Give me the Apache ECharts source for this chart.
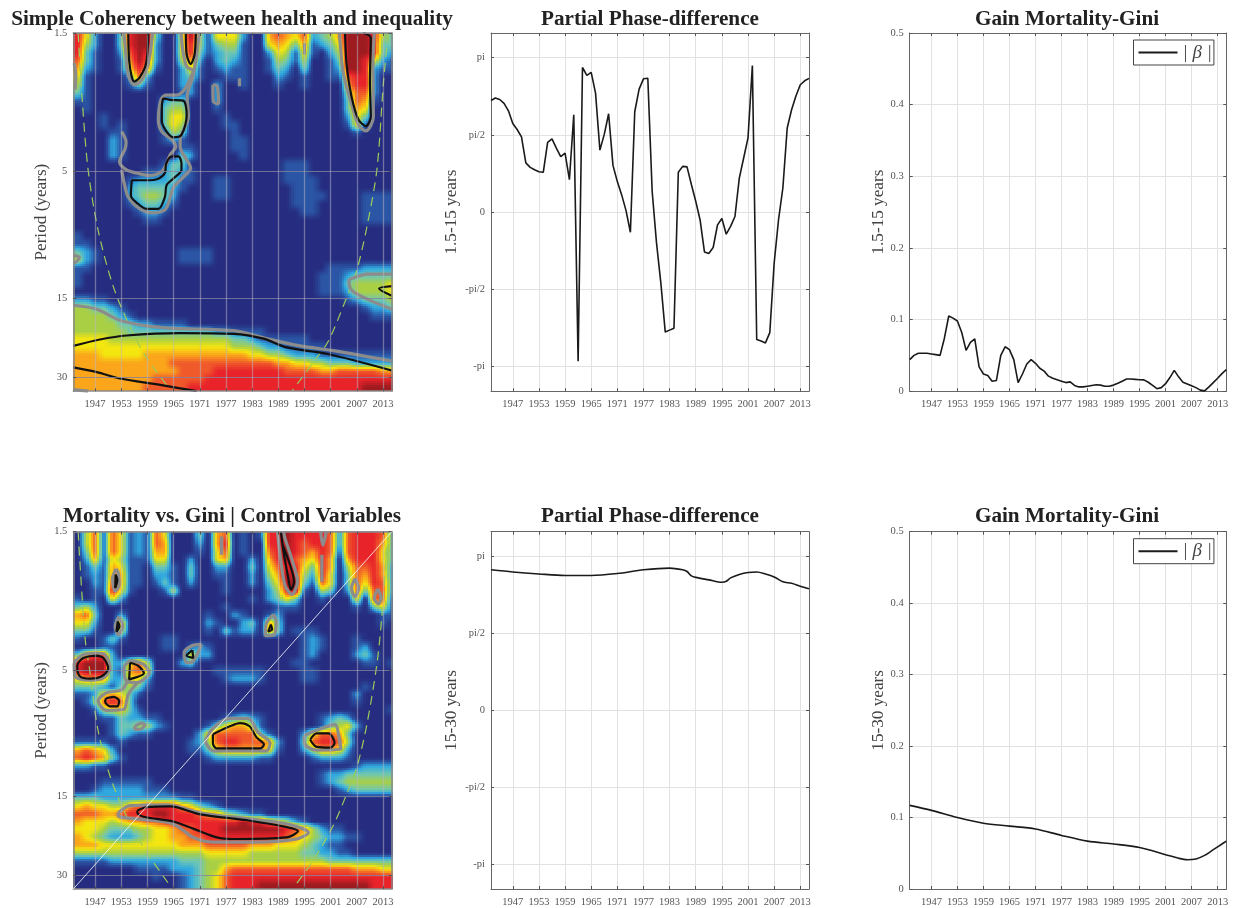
<!DOCTYPE html>
<html><head><meta charset="utf-8">
<style>html,body{margin:0;padding:0;background:#fff}#c{width:1240px;height:908px}</style>
<script src="https://cdn.jsdelivr.net/npm/echarts@6/dist/echarts.min.js"></script>
</head><body><div id="c"></div>
<script>
const tickYears=[1947,1953,1959,1965,1971,1977,1983,1989,1995,2001,2007,2013];
const periodTicks=[1.5,5,15,30];
const gainTicks=[0,0.1,0.2,0.3,0.4,0.5];
const phaseNames={'-3.1416':'-pi','-1.5708':'-pi/2','0.0000':'0','1.5708':'pi/2','3.1416':'pi'};
const phaseTicks=[-Math.PI,-Math.PI/2,0,Math.PI/2,Math.PI];

// coherency class per 2-year column (1942..2016) and per wavelet scale row (short to long period)
const heatRows1=[
"85200 38993 00594 15552 00676 57234 69998 43",
"84200 38992 00584 13441 00565 36123 59998 33",
"83100 27982 00583 12331 00254 15102 49998 32",
"73100 16972 00462 02321 00143 14001 39985 21",
"62100 15861 00251 01211 00132 03001 29982 11",
"51000 02720 00231 00111 00021 01001 17882 00",
"41000 01310 00220 02001 00010 01000 06882 00",
"31000 00000 00120 02000 00000 00000 04772 00",
"11000 00000 23300 02000 00000 00000 03761 00",
"01000 00000 34400 01000 00000 00000 03650 00",
"00010 00000 35500 00100 00000 00000 02530 00",
"00010 10000 35400 00110 00000 00000 01510 00",
"00001 10000 14300 00010 00000 00000 00100 00",
"00002 10000 12100 00011 00000 00000 00000 00",
"00002 10000 00110 00011 00000 00000 00000 00",
"00002 10000 00320 00001 00000 00000 00000 00",
"00000 00000 13300 00000 00001 11000 00000 00",
"00000 00011 23210 00000 00001 11000 00000 00",
"00000 01222 23110 01100 00001 11100 00000 00",
"00000 02333 32100 01100 00000 11100 00000 00",
"00000 02344 32000 01100 00000 11110 00011 11",
"00000 01233 21000 00000 00000 11100 00011 11",
"00000 00122 10000 00000 00000 01100 00011 11",
"00000 00011 00000 00000 00000 00000 00011 11",
"00000 00000 00000 00000 00000 00000 00000 00",
"10000 00000 00000 00000 00000 00000 00000 00",
"11000 00000 00000 00000 00000 00000 00000 00",
"32100 00000 00111 10000 00000 00000 00000 00",
"42100 00000 00111 10000 00000 00000 00000 00",
"11000 00000 00000 00000 00000 00001 11122 22",
"10000 00000 00000 00000 00000 00011 12333 33",
"10000 00000 00000 00000 00000 00011 13444 45",
"00000 00000 00000 00000 00000 00011 12444 45",
"22110 00000 00000 00000 00000 00000 01233 34",
"44332 10000 00000 00000 00000 00000 00012 23",
"44443 21000 00000 00000 00000 00000 00001 11",
"44444 33221 11100 00000 00000 00000 00000 00",
"44444 43333 33333 32211 11000 00000 00000 00",
"55554 44444 44444 44433 21111 11000 00000 00",
"55555 55555 55555 55544 43221 11110 00000 00",
"66655 55566 66666 66666 55443 22211 11111 11",
"66666 66666 67777 77777 77766 55443 33222 22",
"66666 66666 66777 78888 88887 77766 77777 66",
"66666 66667 77777 88888 88888 88888 88888 88",
"66666 66677 77788 88888 88888 88888 88899 99"];
const heatRows2=[
"04717 51217 50003 06701 01889 88887 27888 73",
"04717 51217 60002 06801 00889 87887 27888 63",
"03717 51216 60001 05701 00789 87687 17888 53",
"02615 41115 50020 05600 20689 76586 06888 53",
"01316 51103 31030 02200 30578 85386 04778 62",
"01216 61102 21030 01100 20469 84285 03768 62",
"00217 61101 31020 00100 20359 93175 03758 72",
"00118 51000 14000 00100 00248 91043 02737 72",
"10105 20000 00000 00000 10235 30010 00507 71",
"34200 00000 00000 00100 00011 10000 00103 51",
"67300 20000 00000 10021 00120 00000 00000 11",
"55200 60000 00000 21002 30630 00000 00000 10",
"33100 50000 00000 10312 20630 11100 00000 00",
"10013 10000 11000 00000 00000 01210 00100 00",
"00011 00000 11012 10000 00000 01210 00120 00",
"36872 00000 00052 20000 00000 01200 00231 00",
"89992 25740 00230 00000 00000 11000 00011 01",
"89992 16750 00000 01111 11000 01100 00000 00",
"56662 25520 00000 00122 21000 01100 00000 00",
"33321 34310 00000 00000 00000 00000 00010 00",
"11256 53100 00000 00000 00000 00000 00200 00",
"01378 73000 00000 00000 00000 00000 00100 00",
"00145 53100 00000 00000 00000 00000 00000 01",
"00011 32211 00000 00123 21000 00012 32000 00",
"00001 33442 10000 13566 41000 00013 45200 00",
"00001 32110 00002 57777 73100 02577 63000 00",
"11110 10000 00012 47887 77620 03788 74000 00",
"67652 00000 00011 35666 66510 02466 52000 00",
"78763 10000 00000 12222 21100 00122 21000 00",
"22110 00000 00000 00000 00000 00000 00122 22",
"00000 00000 00000 00000 00000 00012 23333 33",
"00011 11110 00000 00000 00000 00012 34444 44",
"00122 22211 10000 00000 00000 00000 12333 33",
"33322 22222 22110 00000 00000 00000 00000 00",
"56554 46788 88653 21000 00000 00000 00000 00",
"77766 78889 98887 66432 11000 00000 00000 00",
"65554 56677 88888 88889 88654 21000 00000 00",
"55543 33445 56778 88999 99998 76421 10000 00",
"65432 22345 56677 88888 88887 65432 21100 00",
"66655 55555 55666 77777 66655 54321 10000 00",
"44444 44444 44444 55555 44444 43322 11000 00",
"11112 22222 22333 44444 44444 44443 33333 33",
"00000 00111 12223 44677 77777 77777 77666 55",
"00000 00001 00123 45788 88888 88888 88888 88",
"00000 00000 00123 45788 89999 99999 99998 88"];
const palette=['#262d80','#2b55a5','#2fa8e0','#6fc7b2','#a9cf45','#f4e60f','#faa51a','#f0592a','#e8232a','#9e1b20'];

// contours as [year, scale index]
const grey1=[
[[1953.6,0],[1954.1,2.9],[1954.6,5.3],[1956,6.5],[1957.7,5.9],[1959.2,3.8],[1960.2,0]],
[[1953.1,12.4],[1954.1,13.7],[1953.9,14.5],[1952.6,16.2],[1954.2,17.2],[1957.3,17.7],[1959.6,17.9],[1962.3,17.4],[1963.4,16.4],[1964.2,15.3],[1965.5,14.3],[1964.6,13.4],[1962.3,12.4],[1961.5,10.9],[1962.1,8.4],[1963.2,7.8],[1965.7,7.8],[1967.5,7.1],[1968.8,5.7],[1969.5,4.8],[1968,4.2],[1967.2,2.5],[1966.7,0]],
[[1970.9,0],[1970.3,2.7],[1969.4,5.5],[1968.1,8],[1968.4,10.5],[1966.5,13.4],[1966.5,14.3],[1968.9,17],[1967.2,18.1],[1964.9,19.5],[1963.2,22.1],[1960.3,22.6],[1957.3,22.1],[1954.6,20.6],[1953.6,18.7],[1953.1,17.2]],
[[2003,0],[2003.9,5],[2005.5,8.4],[2007.4,11.6],[2009.1,12.3],[2010.8,10.5],[2010.7,4.2],[2011,0]],
[[1995,1.3],[1995,2.7]],[[1980.1,5.7],[1980.1,6.7]],
[[1974,6.5],[1974.1,8.6],[1975.3,8.9],[1975,6.7],[1974,6.5]],
[[1942,27.9],[1943.4,28.2],[1942.1,29]],[[1942.2,3.8],[1942.6,5.5],[1942.4,7.1]],
[[1942,34.2],[1947.4,34.7],[1952.7,36.1],[1958.8,36.8],[1964.9,37.1],[1978.7,37.4],[1986.3,38.4],[1994,39.3],[2001.6,39.9],[2015,41.2]],
[[1942,44.8],[1945.4,45]],
[[2015,30.3],[2009.3,30.3],[2006.6,30.7],[2005.2,31.1],[2005.8,32.3],[2009.3,33.4],[2015,34.7]]];
const black1=[
[[1954.6,0],[1954.8,3.4],[1955.4,5.5],[1956,6.1],[1957.3,5.5],[1958.7,3.8],[1959.2,0]],
[[1962.6,8.2],[1964.2,8.4],[1967.2,8.5],[1968,10.3],[1966.8,12.8],[1964.9,13.1],[1963.4,12.4],[1962.3,11.1],[1962.3,9.2],[1962.6,8.2]],
[[1955.4,18.5],[1958.8,18.5],[1961.5,18.3],[1963,17.6],[1963.3,16.4],[1964.6,15.5],[1966.1,15.5],[1966.8,16.4],[1966.8,17.2],[1964.9,18.3],[1963.4,19.1],[1963,20.6],[1961.5,22.1],[1958.8,22.1],[1956.5,21.3],[1955.2,20.4],[1955.4,18.5]],
[[2004.3,0],[2004.7,4.2],[2005.8,8],[2007.4,10.9],[2009.1,11.7],[2010.2,10.5],[2010,6.3],[2010.2,0.6],[2008.5,0]],
[[1967.8,0],[1968,2.7],[1968.9,3.9],[1969.8,2.7],[1970.1,0]],
[[1942,39.3],[1948.1,38.5],[1954.2,38],[1966.5,37.7],[1978.7,37.8],[1985.6,38.4],[1990.9,39.5],[2000.1,40.3],[2015,42.4]],
[[1942,42],[1947.4,42.6],[1952.7,43.4],[1961.9,44.2],[1970.3,45]],
[[2015,31.8],[2012.1,32.1],[2015,33]]];
const cone1=[
[[1943.1,0],[1944.1,8.8],[1945.4,17.2],[1947.7,24.8],[1951.2,31.9],[1955.4,37.4],[1958.8,40.8],[1963.8,44.5]],
[[2014.2,0],[2013.1,6.3],[2011.6,17.2],[2009.3,24.4],[2007,29.8],[2004.7,33.2],[2000.5,38.7],[1997.8,40.8],[1992.1,45]]];
const grey2=[
[[1951.8,4.7],[1951,5.9],[1951.6,7.5],[1952.5,6.7],[1952.3,5.2],[1951.8,4.7]],
[[1952.5,10.7],[1951.6,11.9],[1952.3,13],[1953.3,11.9],[1952.5,10.7]],
[[1987.9,10.4],[1986.3,11.5],[1986,13.1],[1988,13],[1988.5,11.3],[1987.9,10.4]],
[[1971.4,14.2],[1969.1,14.4],[1967.4,15.3],[1968,16.5],[1969.5,16.3],[1971.4,14.2]],
[[1947.4,15.3],[1944.3,15.5],[1942.2,16.7],[1942.4,18.2],[1945.4,18.7],[1948.9,18.4],[1950.4,17.2],[1949.3,15.5],[1947.4,15.3]],
[[1955,16.2],[1953.6,17.2],[1954.2,18.8],[1956.5,19],[1959.4,17.8],[1958.1,16.7],[1955,16.2]],
[[1954.6,18.6],[1953.1,19.9],[1949.6,20.3],[1947.7,21.3],[1949.6,22.5],[1953.5,22.4],[1954.6,20.5],[1956.9,18.9]],
[[1956.1,24.5],[1957.7,24.1],[1958.4,24.3],[1957.3,24.9],[1956.1,24.9],[1956.1,24.5]],
[[1972.2,26.4],[1974.1,24.7],[1977.9,23.5],[1982.1,23.5],[1984.4,25.3],[1987.1,26.6],[1986.3,27.6],[1974.1,27.6],[1972.2,26.4]],
[[1994.9,25.7],[1997.8,25],[2002,24.3],[2002.8,25.5],[2003.3,27.4],[1997.8,27.5],[1995.1,26.8],[1994.9,25.7]],
[[1952.3,35.4],[1955,34.5],[1963.4,34.4],[1971.1,35.4],[1982.5,36.2],[1990.9,36.8],[1995.9,37.9],[1993.2,38.7],[1983.3,39.1],[1974.1,39.1],[1969.5,38.5],[1964.9,36.8],[1957.3,36.2],[1952.3,35.8],[1952.3,35.4]],
[[1988.8,0],[1989.4,2.9],[1990.5,6.7],[1992.1,7.9],[1993.4,6.3],[1992.3,3.8],[1990.5,0.8],[1990.2,0]],
[[1998.7,0],[1999.2,1.7],[1999.7,0.8],[2000,0]],
[[1976,0.6],[1976,2.9]],[[1999,2.9],[1999,6.3]],
[[2006.6,5.9],[2005.8,7.1],[2006.6,8.2],[2007.4,7.1],[2006.6,5.9]],
[[2011.8,7.2],[2011,8.4],[2012,9.1],[2012.5,8.2],[2011.8,7.2]]];
const black2=[
[[1951.7,5.4],[1951.6,7.1],[1952.1,6.1],[1951.7,5.4]],
[[1952.2,11.3],[1951.9,12.6],[1952.6,11.9],[1952.2,11.3]],
[[1987.3,11.7],[1986.7,12.6],[1987.6,12.3],[1987.3,11.7]],
[[1969.3,14.9],[1968,15.6],[1969.5,15.9],[1969.3,14.9]],
[[1947.4,15.6],[1944.3,15.9],[1942.9,16.9],[1943.5,18.2],[1945.8,18.5],[1948.5,18.2],[1950,17.2],[1948.9,15.9],[1947.4,15.6]],
[[1955,16.5],[1954.8,18.6],[1958.2,17.8],[1956.9,16.9],[1955,16.5]],
[[1949.5,21],[1951.2,20.8],[1952.5,21.3],[1952.1,22],[1950.4,22],[1949.3,21.4],[1949.5,21]],
[[1974,25.5],[1977.9,24.5],[1980.2,24.1],[1982.4,24.5],[1984,25.9],[1985.7,26.8],[1984.8,27.3],[1974.9,27.3],[1974,26.6],[1974,25.5]],
[[1996.3,26.2],[1997.8,25.4],[2000.5,25.4],[2001.9,26.6],[2000.9,27.2],[1997.8,27.1],[1996.3,26.2]],
[[1956.7,35.1],[1958.8,34.7],[1964.2,34.6],[1971.1,35.6],[1982.5,36.4],[1990.9,37.2],[1993.5,37.7],[1990.9,38.5],[1978.7,38.7],[1974.9,38.5],[1969.5,37.4],[1964.9,36.5],[1958.1,35.9],[1956.7,35.4],[1956.7,35.1]],
[[1989.6,0],[1990.2,2.5],[1991.3,5.9],[1991.9,7.3],[1992.6,6.3],[1991.7,4.2],[1990,1.7]]];
const cone2=[
[[1943.1,0],[1944.7,13.4],[1945.8,17.6],[1947.7,25.1],[1950.8,31.4],[1955.4,37.2],[1959.6,41],[1964.2,44.6]],
[[2014.2,0],[2012.7,10.9],[2011.6,16.7],[2009.3,24.3],[2007,29.7],[2004.7,33],[2001.6,37],[1997,41.4],[1992.5,44.8]]];
const diagonal2=[[1942,45],[2015,0]];

const phaseShort=[2.27,2.32,2.29,2.21,2.06,1.80,1.68,1.53,1.00,0.91,0.86,0.82,0.81,1.42,1.49,1.30,1.13,1.20,0.66,1.98,-3.03,2.94,2.78,2.84,2.42,1.26,1.58,2.00,0.95,0.62,0.35,0.03,-0.41,2.04,2.50,2.71,2.72,0.42,-0.63,-1.45,-2.44,-2.40,-2.36,0.81,0.93,0.92,0.56,0.22,-0.16,-0.81,-0.84,-0.72,-0.26,-0.13,-0.45,-0.29,-0.09,0.69,1.10,1.51,2.98,-2.59,-2.62,-2.66,-2.45,-1.04,-0.16,0.49,1.71,2.08,2.36,2.59,2.67,2.72];
const gainShort=[0.044,0.050,0.053,0.053,0.053,0.052,0.051,0.050,0.074,0.105,0.102,0.098,0.082,0.057,0.068,0.073,0.034,0.024,0.022,0.014,0.015,0.050,0.062,0.058,0.044,0.012,0.024,0.038,0.044,0.039,0.032,0.028,0.021,0.018,0.016,0.014,0.012,0.013,0.008,0.006,0.006,0.007,0.008,0.009,0.0085,0.007,0.007,0.0085,0.011,0.014,0.017,0.017,0.0165,0.016,0.0158,0.0125,0.008,0.0035,0.005,0.0105,0.019,0.029,0.020,0.0125,0.010,0.0075,0.005,0.0015,0.0005,0.006,0.012,0.018,0.0245,0.030];
const phaseLongYears=[1942,1947,1953,1959,1965,1971,1977,1983,1986,1987,1988,1989,1992,1995,1996,1997,1999,2001,2003,2005,2007,2009,2011,2013,2015];
const phaseLong=[2.865,2.82,2.78,2.75,2.75,2.79,2.865,2.90,2.865,2.83,2.74,2.71,2.66,2.61,2.63,2.70,2.77,2.81,2.82,2.78,2.72,2.62,2.59,2.53,2.48];
const gainLongYears=[1942,1947,1953,1959,1965,1971,1977,1983,1989,1995,2001,2004,2006,2008,2010,2012,2014,2015];
const gainLong=[0.117,0.110,0.100,0.092,0.088,0.084,0.075,0.067,0.063,0.058,0.048,0.043,0.041,0.042,0.047,0.055,0.063,0.067];

const SERIF='"Liberation Serif","Times New Roman",serif';
const P_MIN=1.5,P_MAX=33.8,SCALES=45;
const period=i=>P_MIN*Math.pow(P_MAX/P_MIN,i/SCALES);
const annual=a=>a.map((v,i)=>[1942+i,v]);
const pair=(x,y)=>x.map((v,i)=>[v,y[i]]);
const lefts=[73.3,491,909.7],tops=[33,531.7],W=[318.4,318,316.6],H=358.2;
const grids=[],xAxes=[],yAxes=[],titles=[],series=[];
function xA(g,top,heat){return{type:'value',gridIndex:g,min:1942,max:2015,position:top?'top':'bottom',z:heat?6:0,
  axisLine:{onZero:false,lineStyle:{color:heat?'#8a8a8a':'#666',width:heat?1.5:1}},
  axisTick:{inside:true,length:3,customValues:tickYears,lineStyle:{color:'#555'}},
  axisLabel:top?{show:false}:{customValues:tickYears,margin:8,fontFamily:SERIF,fontSize:10.5,color:'#555',formatter:v=>String(v)},
  splitLine:{show:!top,lineStyle:{color:heat?'rgba(185,185,195,0.5)':'#e2e2e2',width:heat?1.3:1}}};}
function yBase(g,right,heat,name,gap,o){return Object.assign({gridIndex:g,position:right?'right':'left',z:heat?6:0,
  name:right?'':name,nameLocation:'middle',nameGap:gap,nameTextStyle:{fontFamily:SERIF,fontSize:17.2,color:'#444'},
  axisLine:{onZero:false,lineStyle:{color:heat?'#8a8a8a':'#666',width:heat?1.5:1}},
  splitLine:{show:!right,lineStyle:{color:heat?'rgba(130,130,160,0.8)':'#e2e2e2',width:1}}},o);}
function axisPair(g,kind,name,gap){
  const heat=kind==='heat';
  xAxes.push(xA(g,false,heat),xA(g,true,heat));
  [false,true].forEach(r=>{
    let o;
    const lab=(vals,f)=>r?{show:false}:{customValues:vals,margin:6,fontFamily:SERIF,fontSize:10.5,color:'#555',formatter:f};
    if(kind==='heat')o={type:'log',logBase:10,min:P_MIN,max:P_MAX,inverse:true,axisTick:{inside:true,length:3,customValues:periodTicks,lineStyle:{color:'#555'}},axisLabel:lab(periodTicks,v=>String(Math.round(v*10)/10))};
    if(kind==='phase')o={type:'value',min:-Math.PI-0.5,max:Math.PI+0.5,axisTick:{inside:true,length:3,customValues:phaseTicks,lineStyle:{color:'#555'}},axisLabel:lab(phaseTicks,v=>{const k=(Math.abs(v)<1e-9?0:v).toFixed(4);return phaseNames[k]||'';})};
    if(kind==='gain')o={type:'value',min:0,max:0.5,axisTick:{inside:true,length:3,customValues:gainTicks,lineStyle:{color:'#555'}},axisLabel:lab(gainTicks,v=>v===0?'0':v.toFixed(1))};
    yAxes.push(yBase(g,r,heat,name,gap,o));
  });
}
const ax=g=>({xAxisIndex:2*g,yAxisIndex:2*g});
const paletteRgb=palette.map(h=>[1,3,5].map(k=>parseInt(h.substr(k,2),16)));
function shade(v){
  const k=Math.min(8,Math.floor(v)),t=v-k,a=paletteRgb[k],b=paletteRgb[k+1];
  return 'rgb('+a.map((c,n)=>Math.round(c+(b[n]-c)*t)).join(',')+')';
}
const SHADE_STEPS=4; // each read cell is painted with a soft shading towards its neighbours
function heatSeries(g,rows){
  const grid=rows.map(r=>r.replace(/ /g,'').split('').map(Number));
  const at=(j,i)=>grid[Math.max(0,Math.min(grid.length-1,j))][Math.max(0,Math.min(grid[0].length-1,i))];
  const data=[];
  grid.forEach((row,j)=>row.forEach((d,i)=>data.push([1942+2*i,1944+2*i,period(j),period(j+1),d,i,j])));
  series.push(Object.assign({type:'custom',silent:true,z:2,animation:false,progressive:0,clip:true,data,encode:{x:[0,1],y:[2,3]},
    renderItem(p,api){
      const a=api.coord([api.value(0),api.value(2)]),b=api.coord([api.value(1),api.value(3)]);
      const i=api.value(5),j=api.value(6),children=[];
      for(let sj=0;sj<SHADE_STEPS;sj++)for(let si=0;si<SHADE_STEPS;si++){
        const x0=Math.round(a[0]+(b[0]-a[0])*si/SHADE_STEPS),x1=Math.round(a[0]+(b[0]-a[0])*(si+1)/SHADE_STEPS);
        const y0=Math.round(a[1]+(b[1]-a[1])*sj/SHADE_STEPS),y1=Math.round(a[1]+(b[1]-a[1])*(sj+1)/SHADE_STEPS);
        const u=i+(si+0.5)/SHADE_STEPS-0.5,w=j+(sj+0.5)/SHADE_STEPS-0.5;
        const i0=Math.floor(u),j0=Math.floor(w),tu=u-i0,tw=w-j0;
        const v=(at(j0,i0)*(1-tu)+at(j0,i0+1)*tu)*(1-tw)+(at(j0+1,i0)*(1-tu)+at(j0+1,i0+1)*tu)*tw;
        children.push({type:'rect',shape:{x:x0,y:y0,width:x1-x0,height:y1-y0},style:{fill:shade(v)}});
      }
      return {type:'group',children};
    }},ax(g)));
}
function lineS(g,data,color,width,extra){
  series.push(Object.assign({type:'line',silent:true,data,showSymbol:false,symbol:'none',animation:false,
    lineStyle:{color,width},itemStyle:{color},z:3},ax(g),extra||{}));
}
const toP=pts=>pts.map(p=>[p[0],period(p[1])]);
function overlays(g,grey,black,cone){
  cone.forEach(c=>lineS(g,toP(c),'#9ccc5a',1.2,{smooth:0.3,lineStyle:{color:'#9ccc5a',width:1.2,type:[9,6]}}));
  grey.forEach(c=>lineS(g,toP(c),'#8c8c8c',3.2,{smooth:0.3,z:4}));
  black.forEach(c=>lineS(g,toP(c),'#111',2.2,{smooth:0.3,z:5}));
}
function title(text,cx,cy){titles.push({text,left:cx,top:cy,textAlign:'center',textVerticalAlign:'middle',padding:0,
  textStyle:{fontFamily:SERIF,fontSize:21.2,fontWeight:'bold',color:'#222'}});}

const panels=[
 {r:0,c:0,kind:'heat',name:'Period (years)',gap:23,t:'Simple Coherency between health and inequality'},
 {r:0,c:1,kind:'phase',name:'1.5-15 years',gap:31,t:'Partial Phase-difference'},
 {r:0,c:2,kind:'gain',name:'1.5-15 years',gap:23,t:'Gain Mortality-Gini'},
 {r:1,c:0,kind:'heat',name:'Period (years)',gap:23,t:'Mortality vs. Gini | Control Variables'},
 {r:1,c:1,kind:'phase',name:'15-30 years',gap:31,t:'Partial Phase-difference'},
 {r:1,c:2,kind:'gain',name:'15-30 years',gap:23,t:'Gain Mortality-Gini'}];
panels.forEach((p,g)=>{
  grids.push({left:lefts[p.c],top:tops[p.r],width:W[p.c],height:H,containLabel:false,show:false});
  axisPair(g,p.kind,p.name,p.gap);
  title(p.t,[232,650,1067][p.c],p.r?517:20);
});
heatSeries(0,heatRows1); overlays(0,grey1,black1,cone1);
lineS(1,annual(phaseShort),'#1a1a1a',1.6);
lineS(2,annual(gainShort),'#1a1a1a',1.6,{name:'| β |'});
heatSeries(3,heatRows2); overlays(3,grey2,black2,cone2);
lineS(3,toP(diagonal2),'#ffffff',0.8,{z:6});
lineS(4,pair(phaseLongYears,phaseLong),'#1a1a1a',1.6,{smooth:0.3});
lineS(5,pair(gainLongYears,gainLong),'#1a1a1a',1.6,{smooth:0.3,name:'| β |'});

const legend=tops.map(t=>({data:['| β |'],left:1133.5,top:t+7,orient:'horizontal',padding:[3,2,3,5],
  itemWidth:39,itemHeight:2,itemGap:0,backgroundColor:'#fff',borderColor:'#444',borderWidth:1,selectedMode:false,
  textStyle:{fontFamily:SERIF,fontSize:19,fontStyle:'italic',color:'#444',lineHeight:19},
  icon:'rect'}));

const chart=echarts.init(document.getElementById('c'),null,{renderer:'canvas'});
chart.setOption({backgroundColor:'#fff',animation:false,title:titles,grid:grids,xAxis:xAxes,yAxis:yAxes,series,legend,tooltip:{show:false}});
</script></body></html>
